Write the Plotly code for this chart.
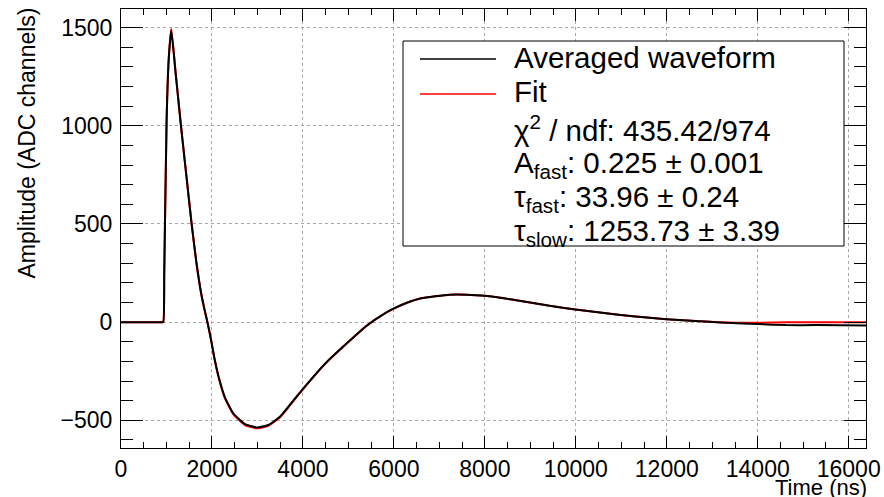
import plotly.graph_objects as go

# ---- data ----
time_ns = [0, 500, 900, 929, 951, 1003, 1050, 1105, 1200, 1318, 1440, 1553, 1660, 1760,
           1840, 1900, 1980, 2060, 2160, 2280, 2468, 2724, 2981, 3236, 3493, 3786, 4000,
           4500, 5000, 5400, 5800, 6000, 6300, 6600, 7228, 7595, 7997, 8693, 9425, 9990,
           10891, 11622, 11989, 12721, 13307, 14010, 14625, 15284, 16383]
waveform = [0, 0, 0, 0, 250, 1030, 1340, 1485, 1270, 1000, 740, 500, 300, 150,
            60, 0, -90, -190, -290, -380, -464, -519, -536, -524, -482, -400, -340,
            -208, -100, -18, 45, 70, 100, 122, 140, 140, 134, 112, 83, 65,
            39, 22, 15, 5, -3, -10, -15, -15, -17]
fit = [0, 0, 0, 0, 252, 1035, 1348, 1494, 1275, 1002, 741, 500, 300, 150,
       60, 0, -91, -192, -293, -384, -468, -524, -541, -528, -486, -403, -342,
       -210, -101, -19, 44, 69, 100, 122, 140, 140, 134, 112, 83, 65,
       39, 22, 15, 5, -2, -3, -1, 0, 0]

legend_names = ["Averaged waveform", "Fit"]
stats_lines = ["χ<sup>2</sup> / ndf: 435.42/974",
               "A<sub>fast</sub>: 0.225 ± 0.001",
               "τ<sub>fast</sub>: 33.96 ± 0.24",
               "τ<sub>slow</sub>: 1253.73 ± 3.39"]

x_range = [0, 16380]
y_range = [-641, 1595]

W, H = 884, 497
L, R, T, B = 121, 866, 9, 448
FONT = "Liberation Sans, Arial, Helvetica, sans-serif"

def px(xp):
    return (xp - L) / (R - L)

def py(yp):
    return (B - yp) / (B - T)

fig = go.Figure()
fig.add_trace(go.Scatter(x=time_ns, y=fit, mode="lines", name=legend_names[1],
                         line=dict(color="#ff0000", width=2, shape="spline", smoothing=0.5),
                         showlegend=False))
fig.add_trace(go.Scatter(x=time_ns, y=waveform, mode="lines", name=legend_names[0],
                         line=dict(color="#000000", width=2, shape="spline", smoothing=0.5),
                         showlegend=False))

axis_common = dict(
    showline=True, linecolor="black", linewidth=1, mirror="allticks",
    ticks="inside", tickcolor="black", tickwidth=1,
    showgrid=True, gridcolor="#a8a8a8", griddash="dot", gridwidth=1,
    zeroline=False, automargin=False,
    tickformat="d", separatethousands=False,
    tickfont=dict(family=FONT, size=23, color="black"),
)

fig.update_xaxes(range=x_range, dtick=2000, tick0=0, ticklen=12,
                 minor=dict(dtick=500, ticks="inside", ticklen=6, tickcolor="black", showgrid=False),
                 ticklabelstandoff=0,
                 **axis_common)
fig.update_yaxes(range=y_range, dtick=500, tick0=0, ticklen=22,
                 minor=dict(dtick=100, ticks="inside", ticklen=12, tickcolor="black", showgrid=False),
                 ticklabelstandoff=3,
                 **axis_common)

annotations = [
    dict(text="Time (ns)", xref="paper", yref="paper", x=1, y=0, xanchor="right",
         yanchor="middle", yshift=-(487 - B), xshift=3, showarrow=False,
         font=dict(family=FONT, size=22, color="black")),
    dict(text="Amplitude (ADC channels)", xref="paper", yref="paper", x=0, y=1,
         xanchor="center", yanchor="top", xshift=26 - L, yshift=3, textangle=-90,
         showarrow=False, font=dict(family=FONT, size=23, color="black")),
]

shapes = [
    dict(type="rect", xref="paper", yref="paper", x0=px(403), x1=px(844), y0=py(246), y1=py(41),
         line=dict(color="black", width=1), fillcolor="white", layer="above"),
    dict(type="line", xref="paper", yref="paper", x0=px(420), x1=px(496), y0=py(59), y1=py(59),
         line=dict(color="black", width=1.5), layer="above"),
    dict(type="line", xref="paper", yref="paper", x0=px(420), x1=px(496), y0=py(94), y1=py(94),
         line=dict(color="#ff0000", width=1.5), layer="above"),
]

row_centers = [57, 91]
for name, yc in zip(legend_names, row_centers):
    annotations.append(dict(text=name, xref="paper", yref="paper", x=px(512), y=py(yc),
                            xanchor="left", yanchor="middle", showarrow=False,
                            font=dict(family=FONT, size=29.5, color="black")))
stat_centers = [129, 164, 198, 232]
for txt, yc in zip(stats_lines, stat_centers):
    annotations.append(dict(text=txt, xref="paper", yref="paper", x=px(512), y=py(yc),
                            xanchor="left", yanchor="middle", showarrow=False,
                            font=dict(family=FONT, size=29.5, color="black")))

fig.update_layout(
    width=W, height=H,
    margin=dict(l=L, r=W - R, t=T, b=H - B, autoexpand=False),
    paper_bgcolor="white", plot_bgcolor="white",
    annotations=annotations, shapes=shapes,
    showlegend=False,
)

fig.write_html("out.html", config={"displayModeBar": False},
               post_script="document.body.style.margin='0';")
